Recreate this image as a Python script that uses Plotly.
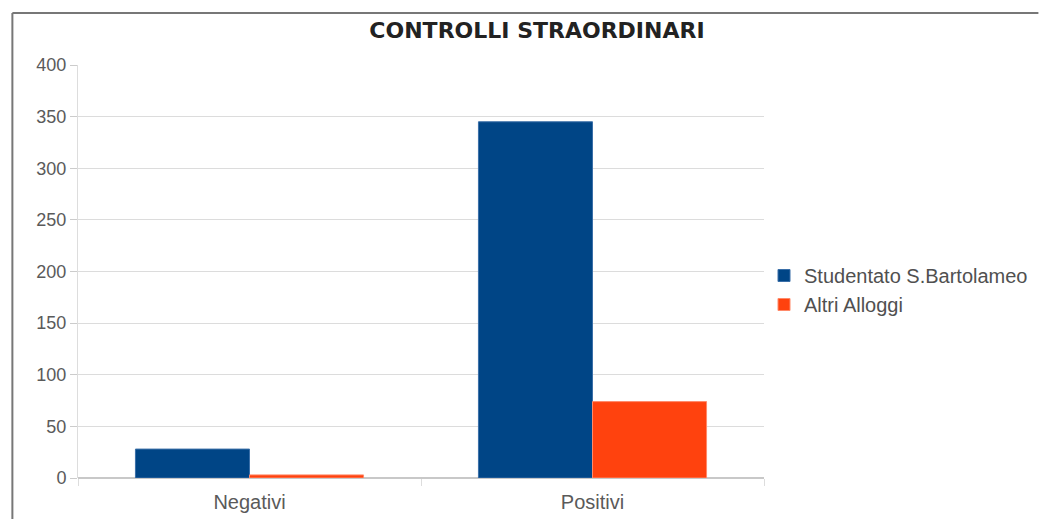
import plotly.graph_objects as go

categories = ["Negativi", "Positivi"]
studentato = [28, 345]
altri = [3, 74]
series_names = ["Studentato S.Bartolameo", "Altri Alloggi"]
y_ticks = [0, 50, 100, 150, 200, 250, 300, 350, 400]

W, H = 1045, 519
L, R, T, B = 78, 277, 65, 41
pw, ph = W - L - R, H - T - B

def px_x(x):
    return (x - L) / pw

def px_y(y):
    return 1 - (y - T) / ph

fig = go.Figure()
fig.add_trace(go.Bar(x=categories, y=studentato, name=series_names[0],
                     marker=dict(color="#004586", line=dict(color="#3a6fa8", width=1))))
fig.add_trace(go.Bar(x=categories, y=altri, name=series_names[1],
                     marker=dict(color="#ff420e", line=dict(color="#ff8a6a", width=1))))

fig.update_layout(
    width=W, height=H,
    margin=dict(l=L, r=R, t=T, b=B),
    paper_bgcolor="white", plot_bgcolor="white",
    barmode="group", bargap=0.335, bargroupgap=0,
    font=dict(family="Liberation Sans, Arial, sans-serif", size=18, color="#555"),
    title=dict(text="<b>CONTROLLI STRAORDINARI</b>", x=537 / W, xanchor="center",
               y=1 - 30 / H, yanchor="middle",
               font=dict(family="DejaVu Sans, sans-serif", size=22, color="#222")),
    legend=dict(x=px_x(768), y=px_y(290), xanchor="left", yanchor="middle",
                font=dict(size=20, color="#505050"), itemwidth=30,
                bgcolor="rgba(0,0,0,0)", tracegroupgap=0),
    showlegend=True,
)
fig.update_yaxes(range=[0, 400], tickvals=y_ticks, gridcolor="#dcdcdc", gridwidth=1,
                 ticks="outside", ticklen=7, tickcolor="#cccccc", automargin=False,
                 showline=True, linecolor="#dddddd", zeroline=True, zerolinecolor="#c8c8c8",
                 tickfont=dict(color="#5a5a5a", size=18))
fig.update_xaxes(tickson="boundaries", ticks="outside", ticklen=7, tickcolor="#dddddd",
                 showline=False, ticklabelstandoff=10, automargin=False,
                 tickfont=dict(color="#5a5a5a", size=20))

# outer frame of the original image (left and top edges)
fig.add_shape(type="line", xref="paper", yref="paper",
              x0=px_x(12), x1=px_x(12), y0=px_y(13), y1=px_y(H + 2),
              line=dict(color="#777", width=2))
fig.add_shape(type="line", xref="paper", yref="paper",
              x0=px_x(12), x1=px_x(W - 1), y0=px_y(13), y1=px_y(13),
              line=dict(color="#777", width=2))

fig.write_html("out.html", config={"displayModeBar": False},
               post_script="document.body.style.margin='0';")
